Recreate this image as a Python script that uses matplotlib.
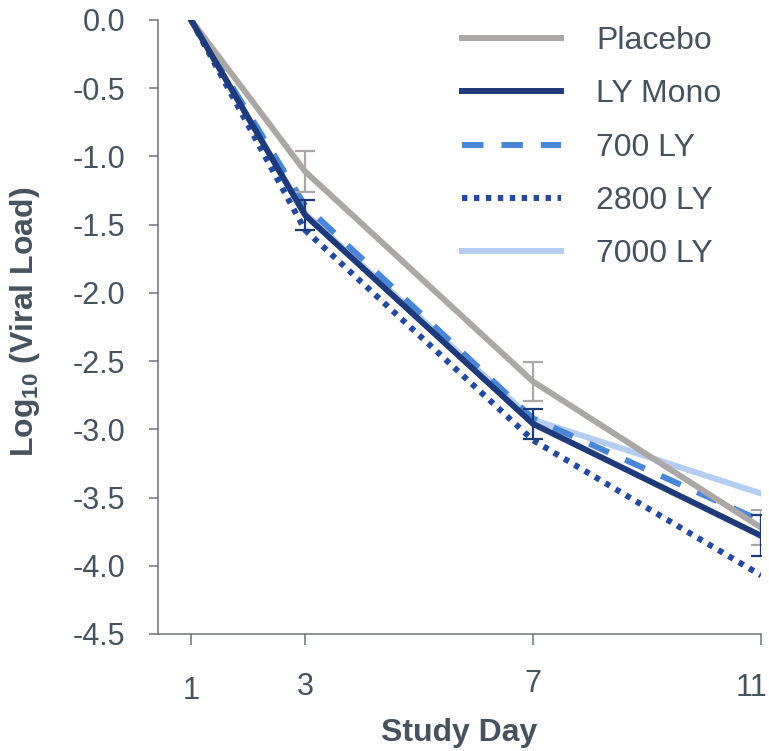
import matplotlib
matplotlib.use("Agg")
import matplotlib.pyplot as plt

plt.rcParams['font.family'] = ['Liberation Sans', 'DejaVu Sans']
plt.rcParams['mathtext.fontset'] = 'custom'
plt.rcParams['mathtext.bf'] = 'Liberation Sans:bold'
plt.rcParams['mathtext.rm'] = 'Liberation Sans'

# data
days = [1, 3, 7, 11]
day_labels = ["1", "3", "7", "11"]

placebo = [0.0, -1.11, -2.65, -3.72]
placebo_err = [0.0, 0.15, 0.145, 0.13]
ly_mono = [0.0, -1.43, -2.96, -3.78]
ly_mono_err = [0.0, 0.11, 0.11, 0.15]
ly_700 = [0.0, -1.36, -2.92, -3.67]
ly_2800 = [0.0, -1.54, -3.08, -4.07]
ly_7000 = [0.0, -1.42, -2.93, -3.47]

y_ticks = [0.0, -0.5, -1.0, -1.5, -2.0, -2.5, -3.0, -3.5, -4.0, -4.5]

text_col = "#46525e"
spine_col = "#6b737b"
fs_tick = 22
fs_lab = 23

fig = plt.figure(figsize=(7.69, 7.51), dpi=100)
ax = fig.add_axes([0.2055, 0.1558, 0.7841, 0.8176])

lw = 4.3
l7000, = ax.plot(days, ly_7000, color="#b4cdf0", lw=lw, label="7000 LY", zorder=2)
l2800, = ax.plot(days, ly_2800, color="#2349a0", lw=lw, dashes=(0.9, 1.1),
                 dash_capstyle="butt", label="2800 LY", zorder=3)
l700, = ax.plot(days, ly_700, color="#4a86d8", lw=lw, dashes=(3.6, 3.0),
                dash_capstyle="butt", label="700 LY", zorder=4)
lpla, = ax.plot(days, placebo, color="#aba7a7", lw=lw, label="Placebo", zorder=5)
lmono, = ax.plot(days, ly_mono, color="#1f3a7a", lw=lw, label="LY Mono", zorder=6)

ax.errorbar(days[1:], placebo[1:], yerr=placebo_err[1:], fmt="none", ecolor="#aba7a7",
            elinewidth=1.6, capsize=7, capthick=1.6, zorder=5)
ax.errorbar(days[1:], ly_mono[1:], yerr=ly_mono_err[1:], fmt="none", ecolor="#1f3a7a",
            elinewidth=1.6, capsize=7, capthick=1.6, zorder=6)

ax.set_xlim(0.42, 11.0)
ax.set_ylim(-4.5, 0.0)
ax.set_yticks(y_ticks)
ax.set_yticklabels(["%.1f" % v for v in y_ticks])
ax.set_xticks(days)
ax.set_xticklabels([""] * len(days))

for s in ["top", "right"]:
    ax.spines[s].set_visible(False)
for s in ["left", "bottom"]:
    ax.spines[s].set_color(spine_col)
    ax.spines[s].set_linewidth(1.1)

ax.tick_params(axis="y", direction="out", length=6.5, width=1.1, color=spine_col,
               labelsize=fs_tick, labelcolor=text_col, pad=17)
ax.tick_params(axis="x", direction="out", length=8, width=1.1, color=spine_col)

# staggered day labels as in the reference
label_y = [-0.0928, -0.0863, -0.0814, -0.088]
label_x = [1, 3, 7, 10.84]
for x, yy, t in zip(label_x, label_y, day_labels):
    ax.text(x, yy, t, transform=ax.get_xaxis_transform(), ha="center", va="center",
            fontsize=fs_tick, color=text_col)

ax.set_xlabel("Study Day", fontsize=fs_lab, fontweight="bold", color=text_col, va="center")
ax.xaxis.set_label_coords(0.499, -0.161)
ax.set_ylabel(r"Log$_{\mathbf{10}}$ (Viral Load)", fontsize=fs_lab, fontweight="bold",
              color=text_col, va="center")
ax.yaxis.set_label_coords(-0.2206, 0.508)

leg = ax.legend(handles=[lpla, lmono, l700, l2800, l7000], loc="upper left",
                bbox_to_anchor=(0.504, 0.99), frameon=False, fontsize=fs_lab,
                handlelength=3.1, handletextpad=1.1, labelspacing=0.73, borderpad=0,
                borderaxespad=0)
for t in leg.get_texts():
    t.set_color(text_col)

fig.savefig("out.png", dpi=100)
